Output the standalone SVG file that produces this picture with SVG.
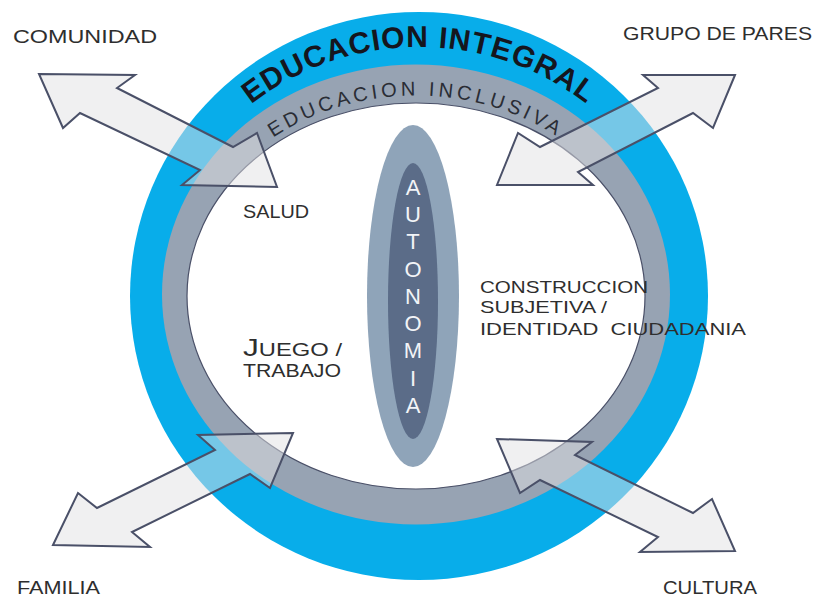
<svg xmlns="http://www.w3.org/2000/svg" width="815" height="599" viewBox="0 0 815 599">
<style>
.lbl{font-family:"Liberation Sans",Arial,sans-serif;font-size:18px;fill:#2e2e2e}
.lbl2{font-family:"Liberation Sans",Arial,sans-serif;font-size:17px;fill:#2e2e2e}
.arr{fill:#E1E1E4;fill-opacity:0.5;stroke:#4A5068;stroke-width:2;stroke-linejoin:miter}
.auto{font-family:"Liberation Sans",Arial,sans-serif;font-size:22px;fill:#F2F4F7;text-anchor:middle}
</style>
<defs>
<path id="arcIntegral" d="M 156 296 A 263 249 0 0 1 682 296"/>
<path id="arcInclusiva" d="M 184 294.5 A 232 199 0 0 1 648 294.5"/>
</defs>
<rect width="815" height="599" fill="#ffffff"/>
<g id="educacion-integral">
<ellipse cx="419" cy="296" rx="289" ry="284" fill="#08ADEA"/>
<text font-family="'Liberation Sans',Arial,sans-serif" font-size="30" font-weight="bold" fill="#15161e" letter-spacing="1"><textPath href="#arcIntegral" startOffset="50%" text-anchor="middle">EDUCACION INTEGRAL</textPath></text>
</g>
<g id="educacion-inclusiva">
<ellipse cx="416" cy="294.5" rx="254" ry="230" fill="#97A3B3"/>
<ellipse cx="416" cy="296" rx="229" ry="193" fill="#ffffff" stroke="#4A5068" stroke-width="1.2"/>
<text font-family="'Liberation Sans',Arial,sans-serif" font-size="20" fill="#2a2d35" letter-spacing="3.8"><textPath href="#arcInclusiva" startOffset="50%" text-anchor="middle">EDUCACION INCLUSIVA</textPath></text>
</g>
<g id="autonomia">
<ellipse cx="413" cy="296" rx="46" ry="171" fill="#8FA4B9"/>
<ellipse cx="413" cy="301" rx="25" ry="138" fill="#5B6C88"/>
<text class="auto"><tspan x="413" y="195">A</tspan><tspan x="413" y="222">U</tspan><tspan x="413" y="249">T</tspan><tspan x="413" y="277">O</tspan><tspan x="413" y="304">N</tspan><tspan x="413" y="331">O</tspan><tspan x="413" y="358">M</tspan><tspan x="413" y="386">I</tspan><tspan x="413" y="413">A</tspan></text>
</g>
<g id="connectors">
<polygon id="arrow-comunidad" class="arr" points="39,74 135,75 117,88 233,147 257,133 277,187 182,185 200,170 80,113 63,128"/>
<polygon id="arrow-grupo" class="arr" points="735,75 713,128 693,113 578,172 593,185 497,185 518,133 540,147 658,88 643,75"/>
<polygon id="arrow-familia" class="arr" points="53,545 78,493 97,508 215,450 198,435 293,433 270,488 250,474 132,532 150,547"/>
<polygon id="arrow-cultura" class="arr" points="497,439 592,442 575,455 693,513 712,499 735,551 640,552 658,537 540,480 520,493"/>
</g>
<g id="comunidad"><text class="lbl" x="13" y="43" textLength="144" lengthAdjust="spacingAndGlyphs">COMUNIDAD</text></g>
<g id="grupo-de-pares"><text class="lbl" x="623" y="40" textLength="189" lengthAdjust="spacingAndGlyphs">GRUPO DE PARES</text></g>
<g id="familia"><text class="lbl" x="17" y="594" textLength="83" lengthAdjust="spacingAndGlyphs">FAMILIA</text></g>
<g id="cultura"><text class="lbl" x="663" y="594" textLength="94" lengthAdjust="spacingAndGlyphs">CULTURA</text></g>
<g id="salud"><text class="lbl" x="243" y="218" textLength="66" lengthAdjust="spacingAndGlyphs">SALUD</text></g>
<g id="juego-trabajo">
<text class="lbl" x="243" y="356" textLength="99" lengthAdjust="spacingAndGlyphs"><tspan font-size="24">J</tspan><tspan font-size="18">UEGO /</tspan></text>
<text class="lbl" x="243" y="377" textLength="98" lengthAdjust="spacingAndGlyphs">TRABAJO</text>
</g>
<g id="construccion">
<text class="lbl2" x="480" y="293" textLength="168" lengthAdjust="spacingAndGlyphs">CONSTRUCCION</text>
<text class="lbl2" x="480" y="313" textLength="127" lengthAdjust="spacingAndGlyphs">SUBJETIVA /</text>
<text class="lbl2" x="480" y="335" textLength="266" lengthAdjust="spacingAndGlyphs">IDENTIDAD&#160; CIUDADANIA</text>
</g>
</svg>
